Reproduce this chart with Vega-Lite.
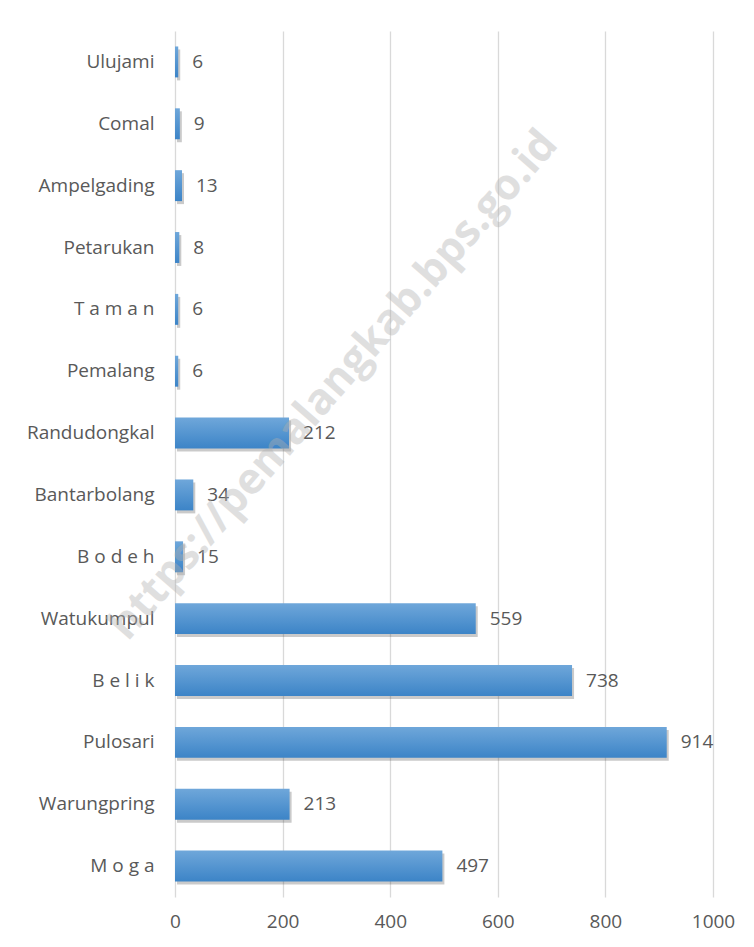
{
  "$schema": "https://vega.github.io/schema/vega-lite/v6.json",
  "autosize": "none",
  "width": 538,
  "height": 866,
  "padding": {"left": 175, "top": 31, "right": 41, "bottom": 50},
  "background": "white",
  "config": {
    "font": "Open Sans",
    "view": {"stroke": null},
    "axis": {"labelFont": "Open Sans", "labelColor": "#595959", "labelFontSize": 19, "title": null}
  },
  "data": {
    "values": [
      {"kecamatan": "Ulujami", "nilai": 6},
      {"kecamatan": "Comal", "nilai": 9},
      {"kecamatan": "Ampelgading", "nilai": 13},
      {"kecamatan": "Petarukan", "nilai": 8},
      {"kecamatan": "T a m a n", "nilai": 6},
      {"kecamatan": "Pemalang", "nilai": 6},
      {"kecamatan": "Randudongkal", "nilai": 212},
      {"kecamatan": "Bantarbolang", "nilai": 34},
      {"kecamatan": "B o d e h", "nilai": 15},
      {"kecamatan": "Watukumpul", "nilai": 559},
      {"kecamatan": "B e l i k", "nilai": 738},
      {"kecamatan": "Pulosari", "nilai": 914},
      {"kecamatan": "Warungpring", "nilai": 213},
      {"kecamatan": "M o g a", "nilai": 497}
    ]
  },
  "encoding": {
    "y": {
      "field": "kecamatan",
      "type": "nominal",
      "sort": null,
      "scale": {"paddingInner": 0.5, "paddingOuter": 0.25},
      "axis": {"domain": false, "ticks": false, "grid": false, "labelPadding": 21}
    },
    "x": {
      "field": "nilai",
      "type": "quantitative",
      "scale": {"domain": [0, 1000], "nice": false},
      "axis": {"domain": false, "ticks": false, "grid": true, "gridColor": "#d9d9d9", "gridWidth": 1.3, "values": [0, 200, 400, 600, 800, 1000], "format": "d", "labelPadding": 15, "labelFlush": false}
    }
  },
  "layer": [
    {
      "mark": {"type": "bar", "color": "#404040", "opacity": 0.28, "xOffset": 2, "yOffset": 3}
    },
    {
      "mark": {
        "type": "bar",
        "color": {
          "gradient": "linear",
          "x1": 0, "y1": 0, "x2": 0, "y2": 1,
          "stops": [
            {"offset": 0, "color": "#6fa7da"},
            {"offset": 1, "color": "#3c84c7"}
          ]
        }
      }
    },
    {
      "mark": {"type": "text", "align": "left", "baseline": "middle", "dx": 14, "fontSize": 19, "color": "#595959"},
      "encoding": {"text": {"field": "nilai", "type": "quantitative"}}
    },
    {
      "data": {"values": [{"teks": "https://pemalangkab.bps.go.id", "px": 295, "py": "Pemalang"}]},
      "mark": {"type": "text", "align": "center", "baseline": "middle", "angle": -49, "fontSize": 43, "fontWeight": "bold", "color": "#b0b0b0", "opacity": 0.4, "yOffset": 14},
      "encoding": {
        "x": {"field": "px", "type": "quantitative"},
        "y": {"field": "py", "type": "nominal", "sort": null},
        "text": {"field": "teks"}
      }
    }
  ]
}
